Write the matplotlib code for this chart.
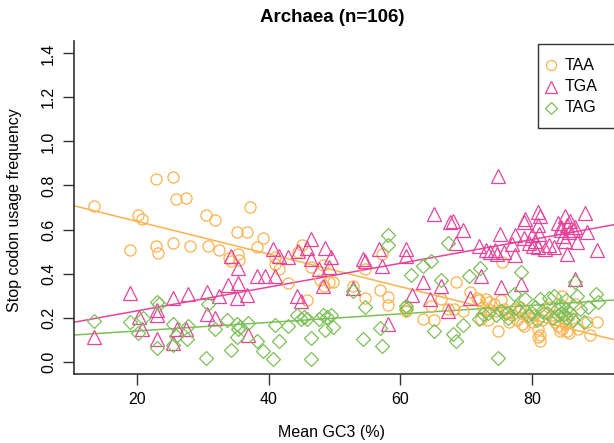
import numpy as np
import matplotlib
matplotlib.use("Agg")
import matplotlib.pyplot as plt
from matplotlib.lines import Line2D
from matplotlib.patches import Rectangle

plt.rcParams["font.family"] = ["Liberation Sans", "DejaVu Sans"]

# TAA usage per genome (mean GC3 %, frequency)
taa_gc3 = [
    13.5, 18.9, 20.1, 20.8, 22.9, 22.9, 23.2, 25.4, 25.4, 25.9, 27.5, 28.0,
    30.4, 30.7, 31.9, 32.4, 33.9, 34.2, 35.2, 35.4, 35.5, 36.7, 37.1, 38.2,
    39.2, 41.0, 41.0, 41.5, 43.0, 44.5, 45.0, 45.8, 46.5, 48.3, 47.8, 48.4,
    49.2, 49.8, 52.8, 54.6, 54.7, 56.9, 57.2, 58.1, 58.1, 60.8, 60.8, 63.5,
    64.6, 65.1, 66.2, 67.3, 68.5, 68.1, 69.6, 70.6, 71.7, 60.9,
    72.0, 72.5, 73.0, 73.5, 74.2, 75.3, 75.5, 72.2, 73.3, 74.9, 73.6, 74.6,
    75.8, 76.4, 77.0, 77.8, 78.5, 78.8, 77.5, 78.2, 79.0, 79.5, 80.0, 80.4,
    80.9, 81.2, 80.9, 81.3, 82.0, 82.6, 83.5, 84.0, 84.3, 84.6, 85.0, 85.4,
    84.6, 85.2, 85.6, 86.1, 86.6, 87.0, 88.4, 88.8, 89.9, 83.0, 81.5, 76.5,
]
taa_freq = [
    0.705, 0.506, 0.667, 0.650, 0.828, 0.526, 0.493, 0.838, 0.537, 0.737, 0.745, 0.527,
    0.665, 0.524, 0.643, 0.507, 0.471, 0.458, 0.590, 0.489, 0.462, 0.590, 0.700, 0.519,
    0.560, 0.476, 0.443, 0.420, 0.357, 0.498, 0.529, 0.282, 0.430, 0.439, 0.372, 0.345,
    0.360, 0.363, 0.345, 0.421, 0.288, 0.327, 0.489, 0.293, 0.258, 0.255, 0.228, 0.195,
    0.252, 0.191, 0.285, 0.240, 0.363, 0.237, 0.232, 0.318, 0.288, 0.232,
    0.280, 0.250, 0.285, 0.270, 0.260, 0.280, 0.451, 0.195, 0.190, 0.137, 0.235, 0.230,
    0.240, 0.220, 0.210, 0.190, 0.170, 0.160, 0.240, 0.250, 0.230, 0.200, 0.180, 0.210,
    0.150, 0.120, 0.110, 0.095, 0.220, 0.250, 0.180, 0.160, 0.140, 0.150, 0.170, 0.140,
    0.300, 0.200, 0.130, 0.200, 0.262, 0.150, 0.180, 0.120, 0.180, 0.210, 0.190, 0.180,
]

# TGA usage
tga_gc3 = [
    13.5, 18.9, 20.3, 20.8, 23.0, 23.0, 23.0, 25.4, 25.5, 26.0, 27.5, 27.8,
    30.6, 30.6, 31.9, 32.4, 33.8, 34.2, 35.4, 35.4, 35.2, 36.7, 36.9, 38.2,
    39.4, 41.0, 40.7, 41.5, 43.0, 44.4, 44.3, 44.9, 45.8, 46.4, 46.5, 47.7,
    48.3, 48.6, 49.5, 49.2, 52.8, 54.4, 54.7, 56.8, 57.2, 58.1, 60.8, 60.9,
    61.8, 63.5, 64.5, 65.1, 66.2, 67.3, 67.6, 68.0, 68.5, 69.6, 70.6, 71.9,
    72.2, 73.0, 73.6, 74.4, 74.7, 74.9, 75.2, 75.3, 75.7, 77.0, 77.4, 77.4,
    78.3, 78.8, 79.0, 78.8, 79.5, 80.0, 80.2, 80.5, 80.9, 81.3, 80.9, 81.1,
    81.0, 82.0, 82.6, 83.3, 84.0, 84.4, 84.7, 85.0, 85.3, 85.6, 85.0, 85.8,
    85.3, 84.5, 86.3, 86.6, 86.9, 86.6, 88.1, 88.4, 89.9,
]
tga_freq = [
    0.110, 0.310, 0.205, 0.150, 0.235, 0.213, 0.104, 0.085, 0.288, 0.150, 0.150, 0.308,
    0.318, 0.215, 0.200, 0.300, 0.350, 0.481, 0.425, 0.355, 0.290, 0.302, 0.119, 0.388,
    0.390, 0.388, 0.511, 0.481, 0.474, 0.502, 0.297, 0.277, 0.514, 0.557, 0.466, 0.421,
    0.345, 0.516, 0.474, 0.430, 0.335, 0.466, 0.456, 0.511, 0.436, 0.170, 0.512, 0.482,
    0.303, 0.363, 0.285, 0.670, 0.343, 0.232, 0.632, 0.638, 0.537, 0.598, 0.290, 0.526,
    0.390, 0.505, 0.500, 0.505, 0.490, 0.842, 0.579, 0.338, 0.500, 0.534, 0.576, 0.486,
    0.353, 0.632, 0.647, 0.560, 0.540, 0.575, 0.525, 0.550, 0.680, 0.660, 0.620, 0.580,
    0.520, 0.510, 0.530, 0.520, 0.630, 0.600, 0.570, 0.660, 0.620, 0.590, 0.550, 0.640,
    0.490, 0.610, 0.600, 0.610, 0.542, 0.376, 0.677, 0.587, 0.507,
]

# TAG usage
tag_gc3 = [
    13.4, 18.9, 20.2, 20.9, 23.0, 23.3, 23.0, 25.4, 25.4, 25.9, 27.6, 27.8,
    30.8, 30.5, 31.9, 33.7, 35.2, 35.6, 35.4, 36.9, 35.2, 34.3, 38.2, 39.2,
    40.7, 41.5, 41.0, 43.0, 44.3, 44.9, 45.3, 45.8, 46.5, 46.5, 47.6, 48.3,
    48.8, 49.4, 48.6, 49.7, 52.8, 54.6, 54.4, 56.9, 57.2, 58.1, 58.1, 60.9,
    60.9, 61.7, 63.5, 64.6, 65.1, 66.2, 67.2, 68.0, 68.5, 69.6, 70.5, 71.9,
    72.1, 72.5, 73.4, 74.8, 74.6, 75.3, 76.4, 76.0, 77.3, 77.6, 78.0, 78.4,
    79.0, 79.4, 80.0, 80.5, 80.8, 81.3, 81.6, 82.3, 82.6, 83.3, 83.2, 83.8,
    84.0, 84.4, 84.6, 84.9, 85.2, 85.4, 85.2, 85.8, 86.2, 86.6, 86.9, 87.3,
    88.0, 88.6, 89.8, 90.0,
]
tag_freq = [
    0.184, 0.182, 0.130, 0.200, 0.270, 0.262, 0.063, 0.172, 0.074, 0.115, 0.104, 0.160,
    0.260, 0.017, 0.150, 0.187, 0.172, 0.157, 0.150, 0.176, 0.112, 0.054, 0.096, 0.047,
    0.014, 0.096, 0.167, 0.164, 0.214, 0.195, 0.205, 0.195, 0.107, 0.012, 0.195, 0.214,
    0.205, 0.214, 0.142, 0.157, 0.323, 0.248, 0.104, 0.154, 0.070, 0.577, 0.530, 0.255,
    0.240, 0.394, 0.436, 0.455, 0.137, 0.372, 0.537, 0.127, 0.096, 0.167, 0.390, 0.195,
    0.425, 0.215, 0.220, 0.017, 0.210, 0.230, 0.200, 0.220, 0.308, 0.250, 0.230, 0.406,
    0.285, 0.210, 0.220, 0.250, 0.190, 0.285, 0.230, 0.220, 0.290, 0.300, 0.200, 0.240,
    0.210, 0.220, 0.255, 0.215, 0.240, 0.200, 0.280, 0.220, 0.190, 0.360, 0.300, 0.240,
    0.180, 0.250, 0.308, 0.270,
]

codons = ["TAA", "TGA", "TAG"]
colors = ["#FAB24C", "#E6449B", "#7BC057"]
markers = ["o", "^", "D"]
sizes = [8, 9.5, 7]

series = [(taa_gc3, taa_freq), (tga_gc3, tga_freq), (tag_gc3, tag_freq)]

W, H = 614, 443
fig = plt.figure(figsize=(W / 100, H / 100), dpi=100)
ax = fig.add_axes([74 / W, 69 / H, 546 / W, 333 / H])

for (gc3, freq), col, mk, ms in zip(series, colors, markers, sizes):
    ax.plot(gc3, freq, linestyle="none", marker=mk, markersize=ms,
            markerfacecolor="none", markeredgecolor=col, markeredgewidth=0.9)

# regression lines, like abline(lm(y ~ x))
xs = np.array([0, 100])
for (gc3, freq), col in zip(series, colors):
    slope, intercept = np.polyfit(gc3, freq, 1)
    ax.plot(xs, intercept + slope * xs, color=col, lw=1.1, zorder=1)

ax.set_xlim(10.4, 93.4)
ax.set_ylim(-0.056, 1.456)
ax.set_xticks([20, 40, 60, 80])
yt = np.arange(0, 1.41, 0.2)
ax.set_yticks(yt)
ax.set_yticklabels([f"{v:.1f}" for v in yt], rotation=90, va="center")
ax.tick_params(direction="out", length=8, width=1.0, labelsize=11.5,
               color="#333333", pad=5)
for side in ["top", "right"]:
    ax.spines[side].set_visible(False)
for side in ["left", "bottom"]:
    ax.spines[side].set_color("#333333")
    ax.spines[side].set_linewidth(1.2)

fig.text(332 / W, 1 - 18 / H, "Archaea (n=106)", ha="center", va="center",
         fontsize=13.5, fontweight="bold")
fig.text(332 / W, 1 - 432 / H, "Mean GC3 (%)", ha="center", va="center",
         fontsize=11.5)
fig.text(15 / W, 1 - 210 / H, "Stop codon usage frequency", ha="center",
         va="center", rotation=90, fontsize=11.5)

# legend box in the top right corner, running off the right edge as in R
fig.add_artist(Rectangle((538 / W, 1 - 128 / H), 90 / W, 84 / H,
                         transform=fig.transFigure, facecolor="white",
                         edgecolor="#333333", lw=1.0, zorder=5))
rows = [65, 86.5, 108]
for name, col, mk, ms, ry in zip(codons, colors, markers, sizes, rows):
    fig.add_artist(Line2D([551 / W], [1 - ry / H], transform=fig.transFigure,
                          marker=mk, markersize=ms * 0.9, markerfacecolor="none",
                          markeredgecolor=col, markeredgewidth=0.9,
                          linestyle="none", zorder=6))
    fig.text(565 / W, 1 - ry / H, name, ha="left", va="center",
             fontsize=11.5, zorder=6)

fig.savefig("out.png", dpi=100)
